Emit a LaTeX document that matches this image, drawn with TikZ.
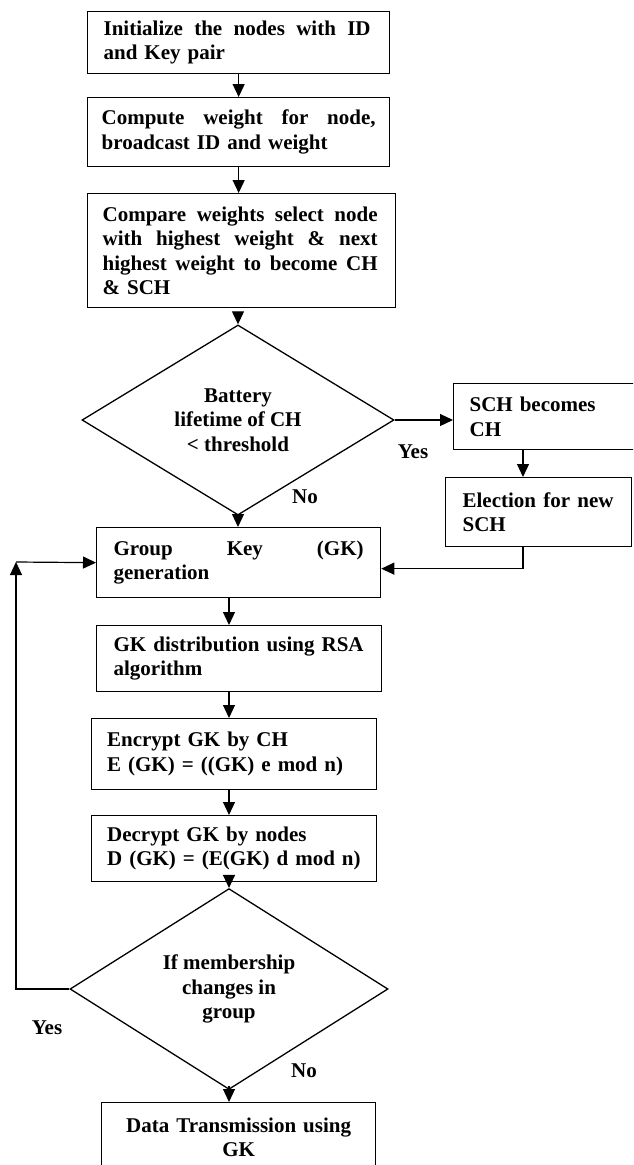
\documentclass[tikz,border=0pt]{standalone}
\usepackage{fontspec}
\setmainfont{Liberation Serif}
\usetikzlibrary{arrows.meta,shapes.geometric,calc}
\newcommand\jline[2]{\makebox[#1pt][s]{\spaceskip=.25em plus 1fil\relax #2}}
\begin{document}
\begin{tikzpicture}[x=1pt,y=-1pt,
 every node/.style={font=\fontsize{21}{24.5}\selectfont\bfseries},
 box/.style={draw, line width=1.3pt, rectangle, anchor=north west, inner ysep=0pt, align=left},
 dia/.style={draw, line width=1.3pt, diamond, inner sep=0pt, align=center},
 arr/.style={line width=1.2pt, -{Triangle[length=13pt,width=12pt]}},
 lbl/.style={inner sep=0pt}]
\useasboundingbox (0,0) rectangle (633,1165);
\clip (0,0) rectangle (633,1165);

\node[box, minimum width=302pt, minimum height=62pt, text width=270pt, inner xsep=16pt] (b1) at (87,11)
  {\jline{267}{Initialize the nodes with ID}\\and Key pair};
\node[box, minimum width=302pt, minimum height=69pt, text width=274pt, inner xsep=14pt] (b2) at (87,97)
  {\jline{274}{Compute weight for node,}\\broadcast ID and weight};
\node[box, minimum width=308pt, minimum height=114pt, text width=278pt, inner xsep=15pt] (b3) at (87,193)
  {\jline{275}{Compare weights select node}\\\jline{275}{with highest weight \& next}\\\jline{275}{highest weight to become CH}\\\& SCH};
\node[dia, minimum width=312pt, minimum height=160pt] (d1) at (238,420)
  {Battery\\lifetime of CH\\< threshold};
\node[box, minimum width=200pt, minimum height=66pt, text width=168pt, inner xsep=16pt] (SCH) at (453,383)
  {SCH becomes\\CH};
\node[box, minimum width=186pt, minimum height=69pt, text width=152pt, inner xsep=17pt] (Elec) at (445,477)
  {\jline{151}{Election for new}\\SCH};
\node[box, minimum width=284pt, minimum height=70pt, text width=250pt, inner xsep=17pt] (GK) at (96,527)
  {\jline{250}{Group Key (GK)}\\generation};
\node[box, minimum width=285pt, minimum height=66pt, text width=251pt, inner xsep=17pt] (GKd) at (96,625)
  {\jline{250}{GK distribution using RSA}\\algorithm};
\node[box, minimum width=285pt, minimum height=71pt, text width=262pt, inner xsep=11.5pt] (Enc) at (91,718)
  {\hspace*{4pt}Encrypt GK by CH\\\hspace*{4pt}E (GK) = ((GK) e mod n)};
\node[box, minimum width=285pt, minimum height=66pt, text width=262pt, inner xsep=11.5pt] (Dec) at (91,815)
  {\hspace*{4pt}Decrypt GK by nodes\\\hspace*{4pt}D (GK) = (E(GK) d mod n)};
\node[dia, minimum width=318pt, minimum height=164pt] (d2) at (229,989)
  {If membership\\changes in\\group};
\node[box, align=center, minimum width=274pt, minimum height=69pt, text width=246pt, inner xsep=14pt] (Data) at (101,1102)
  {Data Transmission using\\GK};

\node[lbl] (yes1) at (413,452) {Yes};
\node[lbl] (no1) at (305,497) {No};
\node[lbl] (yes2) at (47,1028) {Yes};
\node[lbl] (no2) at (304,1071) {No};

\coordinate (cx) at (523,450);
\coordinate (fb) at (16,562);

\draw[arr] (b1.south) -- (b2.north);
\draw[arr] (b2.south) -- (b2.south |- b3.north);
\draw[arr, shorten <=5pt] (b3.south -| d1.north) -- (d1.north);
\draw[arr] (d1.east) -- (d1.east -| SCH.west);
\draw[arr] (SCH.south -| cx) -- (Elec.north -| cx);
\draw[arr] (Elec.south -| cx) |- ($(GK.east)+(0,6)$);
\draw[arr] (d1.south) -- (d1.south |- GK.north);
\draw[arr] (GK.south -| d2.north) -- (GKd.north -| d2.north);
\draw[arr] (GKd.south -| d2.north) -- (Enc.north -| d2.north);
\draw[arr] (Enc.south -| d2.north) -- (Dec.north -| d2.north);
\draw[arr] (Dec.south -| d2.north) -- (d2.north);
\draw[arr, shorten <=4pt] (d2.south) -- (d2.south |- Data.north);
\draw[arr] (d2.west) -| (fb);
\draw[arr] (fb) -- (GK.west);
\end{tikzpicture}
\end{document}
